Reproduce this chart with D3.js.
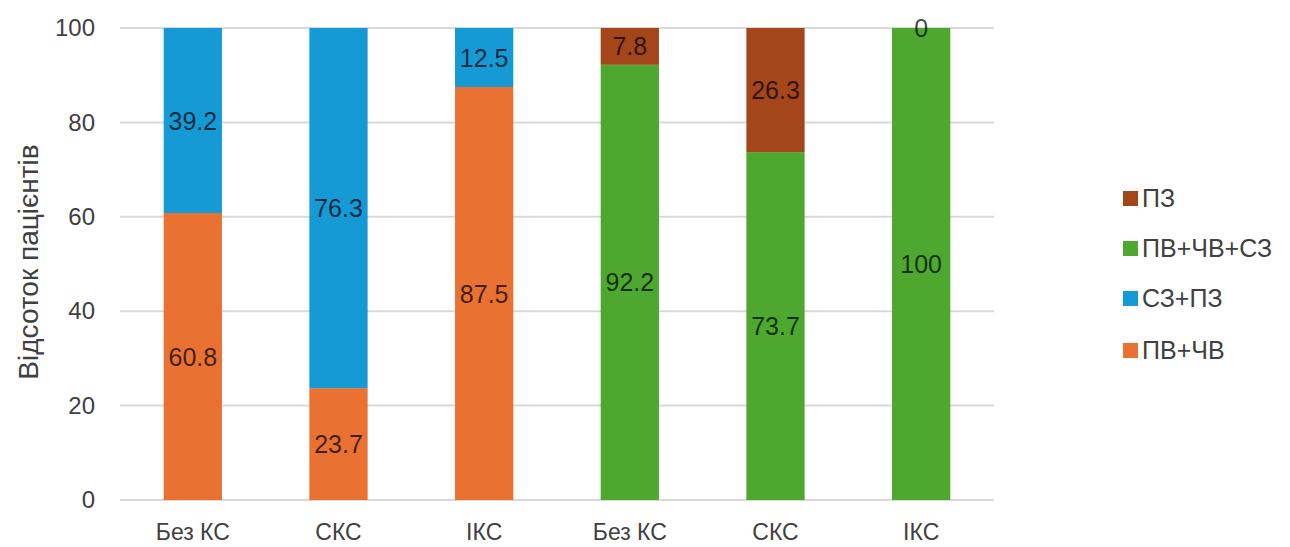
<!DOCTYPE html>
<html>
<head>
<meta charset="utf-8">
<script src="https://cdn.jsdelivr.net/npm/d3@7"></script>
<style>
  html, body { margin: 0; padding: 0; background: #fff; }
  svg text { font-family: "Liberation Sans", Arial, Helvetica, sans-serif; }
</style>
</head>
<body>
<svg id="chart" width="1290" height="547"></svg>
<script>
// Categories along the x axis (two groups of three)
const categories = ["Без КС", "СКС", "ІКС", "Без КС", "СКС", "ІКС"];

// Series values per category (percent); null where a series is absent
const seriesNames = ["ПВ+ЧВ", "СЗ+ПЗ", "ПВ+ЧВ+СЗ", "ПЗ"];
const pvChv      = [60.8, 23.7, 87.5, null, null, null];
const szPz       = [39.2, 76.3, 12.5, null, null, null];
const pvChvSz    = [null, null, null, 92.2, 73.7, 100];
const pz         = [null, null, null, 7.8, 26.3, 0];

const yTicks = [0, 20, 40, 60, 80, 100];
const legendOrder = ["ПЗ", "ПВ+ЧВ+СЗ", "СЗ+ПЗ", "ПВ+ЧВ"];

const colors = {
  "ПВ+ЧВ": "#E97132",
  "СЗ+ПЗ": "#169AD6",
  "ПВ+ЧВ+СЗ": "#4EA72E",
  "ПЗ": "#A5461A"
};

const seriesValues = [pvChv, szPz, pvChvSz, pz];

const svg = d3.select("#chart");
const margin = { left: 120, right: 296, top: 28, bottom: 47 };
const W = 1290, H = 547;

const x = d3.scaleBand()
  .domain(d3.range(categories.length))
  .range([margin.left, W - margin.right])
  .paddingInner(0.6)
  .paddingOuter(0.3);

const y = d3.scaleLinear()
  .domain([0, 100])
  .range([H - margin.bottom, margin.top]);

// Gridlines
svg.append("g")
  .selectAll("line")
  .data(yTicks)
  .join("line")
  .attr("x1", margin.left)
  .attr("x2", W - margin.right)
  .attr("y1", d => y(d))
  .attr("y2", d => y(d))
  .attr("stroke", "#d9d9d9")
  .attr("stroke-width", 2);

// Y axis tick labels
const yAxis = d3.axisLeft(y).tickValues(yTicks).tickSize(0).tickPadding(0);
const gy = svg.append("g")
  .attr("transform", `translate(${margin.left - 25},0)`)
  .call(yAxis);
gy.select(".domain").remove();
gy.selectAll("text")
  .attr("font-size", 24)
  .attr("fill", "#404040")
  .attr("font-family", "Liberation Sans, Arial, sans-serif");

// X axis category labels
const xAxis = d3.axisBottom(x).tickSize(0).tickPadding(0)
  .tickFormat(i => categories[i]);
const gx = svg.append("g")
  .attr("transform", `translate(0,${H - margin.bottom + 24})`)
  .call(xAxis);
gx.select(".domain").remove();
gx.selectAll("text")
  .attr("font-size", 23)
  .attr("fill", "#404040")
  .attr("font-family", "Liberation Sans, Arial, sans-serif");

// Y axis title
svg.append("text")
  .attr("transform", `translate(38,${(y(0) + y(100)) / 2 - 2}) rotate(-90)`)
  .attr("text-anchor", "middle")
  .attr("font-size", 28)
  .attr("fill", "#404040")
  .text("Відсоток пацієнтів");

// Build stacked segments
const segments = [];
categories.forEach((c, i) => {
  let base = 0;
  seriesValues.forEach((vals, s) => {
    const v = vals[i];
    if (v === null) return;
    segments.push({ i, name: seriesNames[s], y0: base, y1: base + v, v });
    base += v;
  });
});

const gBars = svg.append("g");
gBars.selectAll("rect")
  .data(segments)
  .join("rect")
  .attr("x", d => x(d.i))
  .attr("width", x.bandwidth())
  .attr("y", d => y(d.y1))
  .attr("height", d => y(d.y0) - y(d.y1))
  .attr("fill", d => colors[d.name]);

// Value labels centred in each segment
gBars.selectAll("text")
  .data(segments)
  .join("text")
  .attr("x", d => x(d.i) + x.bandwidth() / 2)
  .attr("y", d => y((d.y0 + d.y1) / 2))
  .attr("dy", "0.36em")
  .attr("text-anchor", "middle")
  .attr("font-size", 25)
  .attr("fill", "#000")
  .attr("fill-opacity", 0.72)
  .text(d => d.v);

// Legend
const legend = svg.append("g").attr("transform", "translate(1123,0)");
const legendY = [198, 248, 298, 350];
legendOrder.forEach((name, k) => {
  const row = legend.append("g").attr("transform", `translate(0,${legendY[k]})`);
  row.append("rect")
    .attr("x", 0).attr("y", -7)
    .attr("width", 15).attr("height", 15)
    .attr("fill", colors[name]);
  row.append("text")
    .attr("x", 19).attr("dy", "0.36em")
    .attr("font-size", 25)
    .attr("fill", "#404040")
    .text(name);
});
</script>
</body>
</html>
